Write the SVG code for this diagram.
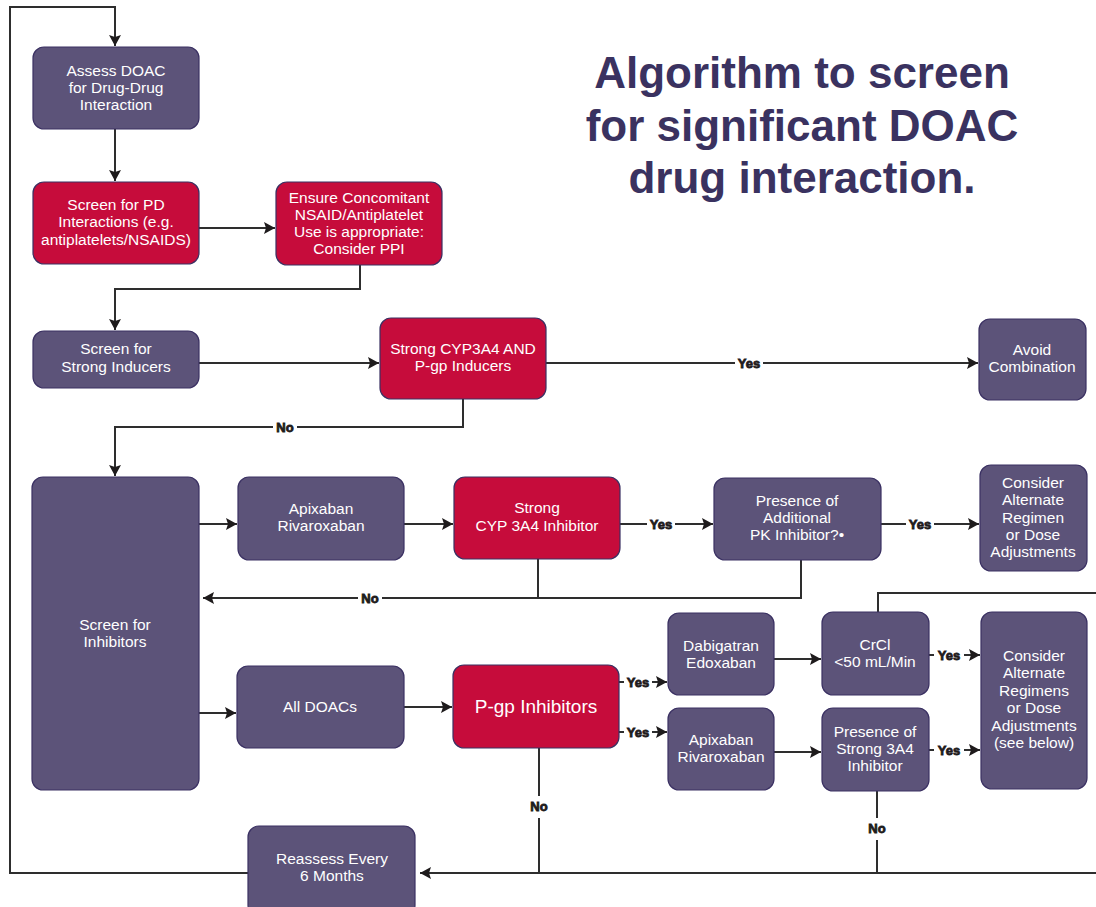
<svg xmlns="http://www.w3.org/2000/svg" width="1096" height="907" viewBox="0 0 1096 907">
  <style>
    .box rect { stroke: #3b3163; stroke-width: 1.2; }
    .p rect { fill: #5c5379; }
    .r rect { fill: #c60c3b; }
    .box text { fill: #ffffff; font-family: "Liberation Sans", Arial, sans-serif; font-size: 15.5px; text-anchor: middle; }
    .wire { fill: none; stroke: #2e2e2e; stroke-width: 2; }
    .lbl { fill: #1e1b1c; stroke: #1e1b1c; stroke-width: 0.8; font-family: "Liberation Sans", Arial, sans-serif; font-weight: bold; font-size: 13px; text-anchor: middle; }
    .lblbg { fill: #ffffff; }
    .title { fill: #3a3260; font-family: "Liberation Sans", Arial, sans-serif; font-weight: bold; font-size: 44px; text-anchor: middle; }
  </style>
  <defs>
    <marker id="arr" markerUnits="userSpaceOnUse" markerWidth="14" markerHeight="14" refX="12" refY="7" orient="auto">
      <path d="M1,1 L12,7 L1,13 L3,7 z" fill="#1e1b1c"/>
    </marker>
  </defs>
  <rect width="1096" height="907" fill="#ffffff"/>

  <g id="title">
    <text class="title" x="802" y="88">Algorithm to screen</text>
    <text class="title" x="802" y="141">for significant DOAC</text>
    <text class="title" x="802" y="193">drug interaction.</text>
  </g>

  <g id="connectors">
    <path class="wire" d="M248,873 H10 V7 H115 V46" marker-end="url(#arr)"/>
    <path class="wire" d="M115,129 V181" marker-end="url(#arr)"/>
    <path class="wire" d="M199,228 H275" marker-end="url(#arr)"/>
    <path class="wire" d="M360,265 V289 H115 V330" marker-end="url(#arr)"/>
    <path class="wire" d="M199,363 H379" marker-end="url(#arr)"/>
    <path class="wire" d="M546,363 H978" marker-end="url(#arr)"/>
    <path class="wire" d="M463,399 V427 H115 V476" marker-end="url(#arr)"/>
    <path class="wire" d="M199,524 H237" marker-end="url(#arr)"/>
    <path class="wire" d="M199,713 H236" marker-end="url(#arr)"/>
    <path class="wire" d="M404,524 H453" marker-end="url(#arr)"/>
    <path class="wire" d="M620,524 H713" marker-end="url(#arr)"/>
    <path class="wire" d="M881,524 H979" marker-end="url(#arr)"/>
    <path class="wire" d="M538,559 V598"/>
    <path class="wire" d="M801,560 V598 H203" marker-end="url(#arr)"/>
    <path class="wire" d="M404,707 H452" marker-end="url(#arr)"/>
    <path class="wire" d="M619,682 H667" marker-end="url(#arr)"/>
    <path class="wire" d="M619,732 H667" marker-end="url(#arr)"/>
    <path class="wire" d="M774,659 H821" marker-end="url(#arr)"/>
    <path class="wire" d="M774,752 H821" marker-end="url(#arr)"/>
    <path class="wire" d="M929,655 H980" marker-end="url(#arr)"/>
    <path class="wire" d="M929,750 H980" marker-end="url(#arr)"/>
    <path class="wire" d="M878,612 V593 H1096"/>
    <path class="wire" d="M539,748 V873"/>
    <path class="wire" d="M877,791 V873"/>
    <path class="wire" d="M1096,873 H420" marker-end="url(#arr)"/>

    <!-- branch labels -->
    <rect class="lblbg" x="735" y="355" width="28" height="16"/>
    <text class="lbl" x="749" y="368">Yes</text>
    <rect class="lblbg" x="273" y="419" width="24" height="16"/>
    <text class="lbl" x="285" y="432">No</text>
    <rect class="lblbg" x="647" y="516" width="28" height="16"/>
    <text class="lbl" x="661" y="529">Yes</text>
    <rect class="lblbg" x="906" y="516" width="28" height="16"/>
    <text class="lbl" x="920" y="529">Yes</text>
    <rect class="lblbg" x="358" y="590" width="24" height="16"/>
    <text class="lbl" x="370" y="603">No</text>
    <rect class="lblbg" x="624" y="674" width="28" height="16"/>
    <text class="lbl" x="638" y="687">Yes</text>
    <rect class="lblbg" x="624" y="724" width="28" height="16"/>
    <text class="lbl" x="638" y="737">Yes</text>
    <rect class="lblbg" x="934" y="647" width="30" height="16"/>
    <text class="lbl" x="949" y="660">Yes</text>
    <rect class="lblbg" x="934" y="742" width="30" height="16"/>
    <text class="lbl" x="949" y="755">Yes</text>
    <rect class="lblbg" x="531" y="796" width="16" height="22"/>
    <text class="lbl" x="539" y="811">No</text>
    <rect class="lblbg" x="869" y="818" width="16" height="22"/>
    <text class="lbl" x="877" y="833">No</text>
  </g>

  <g id="assess" class="box p">
    <rect x="33" y="47" width="166" height="82" rx="11"/>
    <text x="116" y="76">Assess DOAC</text>
    <text x="116" y="93">for Drug-Drug</text>
    <text x="116" y="110">Interaction</text>
  </g>

  <g id="screen-pd" class="box r">
    <rect x="33" y="182" width="166" height="82" rx="11"/>
    <text x="116" y="210">Screen for PD</text>
    <text x="116" y="227">Interactions (e.g.</text>
    <text x="116" y="245">antiplatelets/NSAIDS)</text>
  </g>

  <g id="ensure-ppi" class="box r">
    <rect x="276" y="182" width="166" height="83" rx="11"/>
    <text x="359" y="203">Ensure Concomitant</text>
    <text x="359" y="220">NSAID/Antiplatelet</text>
    <text x="359" y="237">Use is appropriate:</text>
    <text x="359" y="254">Consider PPI</text>
  </g>

  <g id="screen-inducers" class="box p">
    <rect x="33" y="331" width="166" height="57" rx="11"/>
    <text x="116" y="354">Screen for</text>
    <text x="116" y="372">Strong Inducers</text>
  </g>

  <g id="cyp-pgp-inducers" class="box r">
    <rect x="380" y="318" width="166" height="81" rx="11"/>
    <text x="463" y="354">Strong CYP3A4 AND</text>
    <text x="463" y="371">P-gp Inducers</text>
  </g>

  <g id="avoid" class="box p">
    <rect x="979" y="319" width="107" height="81" rx="11"/>
    <text x="1032" y="355">Avoid</text>
    <text x="1032" y="372">Combination</text>
  </g>

  <g id="screen-inhibitors" class="box p">
    <rect x="32" y="477" width="167" height="313" rx="11"/>
    <text x="115" y="630">Screen for</text>
    <text x="115" y="647">Inhibitors</text>
  </g>

  <g id="apix-riva-1" class="box p">
    <rect x="238" y="477" width="166" height="83" rx="11"/>
    <text x="321" y="514">Apixaban</text>
    <text x="321" y="531">Rivaroxaban</text>
  </g>

  <g id="cyp-inhibitor" class="box r">
    <rect x="454" y="477" width="166" height="82" rx="11"/>
    <text x="537" y="513">Strong</text>
    <text x="537" y="531">CYP 3A4 Inhibitor</text>
  </g>

  <g id="additional-pk" class="box p">
    <rect x="714" y="478" width="167" height="82" rx="11"/>
    <text x="797" y="506">Presence of</text>
    <text x="797" y="523">Additional</text>
    <text x="797" y="540">PK Inhibitor?•</text>
  </g>

  <g id="alt-regimen" class="box p">
    <rect x="980" y="465" width="107" height="106" rx="11"/>
    <text x="1033" y="488">Consider</text>
    <text x="1033" y="505">Alternate</text>
    <text x="1033" y="523">Regimen</text>
    <text x="1033" y="540">or Dose</text>
    <text x="1033" y="557">Adjustments</text>
  </g>

  <g id="all-doacs" class="box p">
    <rect x="237" y="666" width="167" height="82" rx="11"/>
    <text x="320" y="712">All DOACs</text>
  </g>

  <g id="pgp-inhibitors" class="box r">
    <rect x="453" y="665" width="166" height="83" rx="11"/>
    <text x="536" y="713" style="font-size:19px">P-gp Inhibitors</text>
  </g>

  <g id="dabi-edox" class="box p">
    <rect x="668" y="613" width="106" height="82" rx="11"/>
    <text x="721" y="651">Dabigatran</text>
    <text x="721" y="668">Edoxaban</text>
  </g>

  <g id="apix-riva-2" class="box p">
    <rect x="668" y="708" width="106" height="82" rx="11"/>
    <text x="721" y="745">Apixaban</text>
    <text x="721" y="762">Rivaroxaban</text>
  </g>

  <g id="crcl" class="box p">
    <rect x="822" y="612" width="107" height="83" rx="11"/>
    <text x="875" y="650">CrCl</text>
    <text x="875" y="667">&lt;50 mL/Min</text>
  </g>

  <g id="strong-3a4" class="box p">
    <rect x="822" y="708" width="107" height="83" rx="11"/>
    <text x="875" y="737">Presence of</text>
    <text x="875" y="754">Strong 3A4</text>
    <text x="875" y="771">Inhibitor</text>
  </g>

  <g id="alt-regimens" class="box p">
    <rect x="981" y="612" width="106" height="177" rx="11"/>
    <text x="1034" y="661">Consider</text>
    <text x="1034" y="678">Alternate</text>
    <text x="1034" y="696">Regimens</text>
    <text x="1034" y="713">or Dose</text>
    <text x="1034" y="731">Adjustments</text>
    <text x="1034" y="748">(see below)</text>
  </g>

  <g id="reassess" class="box p">
    <rect x="248" y="826" width="167" height="90" rx="11"/>
    <text x="332" y="864">Reassess Every</text>
    <text x="332" y="881">6 Months</text>
  </g>
</svg>
